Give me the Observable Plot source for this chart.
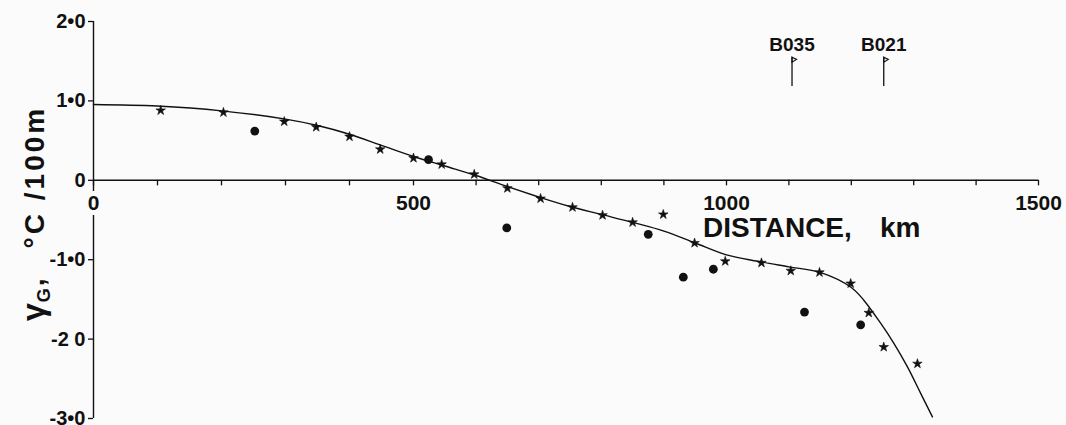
<!DOCTYPE html>
<html><head><meta charset="utf-8">
<script src="https://cdn.jsdelivr.net/npm/d3@7"></script>
<script src="https://cdn.jsdelivr.net/npm/@observablehq/plot@0.6"></script>
<style>
html,body{margin:0;padding:0;background:#fbfbfb;}
#chart svg{display:block;}
</style></head><body><div id="chart"></div>
<script>
// Stars (regular survey points)
const starDistance = [105, 203, 298, 348, 400, 448, 500, 545, 597, 650, 703, 754, 802, 850, 899, 949, 998, 1056, 1103, 1149, 1199, 1228, 1252, 1306];
const starGradient = [0.88, 0.855, 0.74, 0.67, 0.55, 0.39, 0.28, 0.20, 0.075, -0.10, -0.23, -0.34, -0.44, -0.53, -0.43, -0.79, -1.02, -1.04, -1.14, -1.16, -1.30, -1.67, -2.10, -2.31];
// Filled dots
const dotDistance = [252, 524, 649, 875, 931, 979, 1125, 1215];
const dotGradient = [0.62, 0.26, -0.60, -0.68, -1.22, -1.12, -1.66, -1.82];
// Smooth fitted curve
const curveDistance = [0, 100, 200, 300, 350, 400, 450, 500, 550, 600, 650, 700, 750, 800, 850, 900, 950, 1000, 1050, 1100, 1150, 1200, 1220, 1247, 1268, 1290, 1311, 1330];
const curveGradient = [0.955, 0.935, 0.875, 0.77, 0.69, 0.58, 0.44, 0.30, 0.18, 0.06, -0.08, -0.21, -0.33, -0.43, -0.53, -0.64, -0.79, -0.94, -1.02, -1.09, -1.16, -1.35, -1.51, -1.80, -2.05, -2.35, -2.68, -2.98];
// Station flags
const flagDistance = [1105, 1252];
const flagLabels = ["B035", "B021"];
const flagBottom = 1.18, flagTop = 1.55;
// Axes
const xTickValues = [0, 100, 200, 300, 400, 500, 600, 700, 800, 900, 1000, 1100, 1200, 1300, 1400, 1500];
const xLabelValues = [0, 500, 1000, 1500];
const xLabelText = ["0", "500", "1000", "1500"];
const yTickValues = [2, 1, 0, -1, -2, -3];
const yTickText = ["2•0", "1•0", "0", "-1•0", "-2 0", "-3•0"];

const stars = starDistance.map((d, i) => ({d, g: starGradient[i]}));
const dots = dotDistance.map((d, i) => ({d, g: dotGradient[i]}));
const curve = curveDistance.map((d, i) => ({d, g: curveGradient[i]}));
const flags = flagDistance.map((d, i) => ({d, label: flagLabels[i]}));
const xLabels = xLabelValues.map((d, i) => ({d, label: xLabelText[i]}));

const ink = "#111";
const bg = "#fbfbfb";
const pennant = {draw(ctx) { ctx.moveTo(0, 0); ctx.lineTo(4.5, 2.2); ctx.lineTo(0, 5); ctx.closePath(); }};

const svg = Plot.plot({
  width: 1066,
  height: 425,
  marginLeft: 93, marginRight: 28, marginTop: 21, marginBottom: 7,
  x: {type: "linear", domain: [0, 500, 1000, 1500], range: [93, 413, 726, 1038], axis: null},
  y: {domain: [-3, 2], range: [418, 21], axis: null},
  style: {fontFamily: "'Liberation Sans', Arial, sans-serif", fontWeight: "bold", fontSize: "20px", background: bg, color: ink},
  marks: [
    Plot.ruleY([0], {x1: 0, x2: 1500, stroke: ink, strokeWidth: 1.4}),
    Plot.ruleX(xTickValues, {x: d => d, y1: 0, y2: -0.07, stroke: ink, strokeWidth: 1.3}),
    Plot.ruleX([0], {y1: -3, y2: 2, stroke: ink, strokeWidth: 1.4}),
    Plot.axisY({ticks: yTickValues, tickFormat: d => yTickText[yTickValues.indexOf(d)], tickSize: 5, tickPadding: 3, label: null, stroke: ink, strokeWidth: 1.3, fill: ink, fontSize: 20}),
    Plot.text(xLabels, {x: "d", y: 0, text: "label", dy: 23, lineAnchor: "middle", fill: ink, stroke: bg, strokeWidth: 10, fontSize: 21}),
    Plot.line(curve, {x: "d", y: "g", curve: "catmull-rom", stroke: ink, strokeWidth: 1.4}),
    Plot.dot(stars, {x: "d", y: "g", symbol: "star", r: 3, fill: ink, stroke: ink, strokeWidth: 0.6}),
    Plot.dot(dots, {x: "d", y: "g", r: 4.4, fill: ink}),
    Plot.ruleX(flags, {x: "d", y1: flagBottom, y2: flagTop, stroke: ink, strokeWidth: 1.3}),
    Plot.dot(flags, {x: "d", y: flagTop, symbol: pennant, fill: "none", stroke: ink, strokeWidth: 1.2}),
    Plot.text(flags, {x: "d", y: flagTop, text: "label", dy: -6, lineAnchor: "bottom", fill: ink, fontSize: 19})
  ]
});

const s = d3.select(svg);
// x-axis title
const xt = s.append("text").attr("x", 703).attr("y", 237).attr("text-anchor", "start")
  .attr("font-size", 28).attr("font-weight", "bold").attr("fill", ink);
xt.append("tspan").text("DISTANCE,");
xt.append("tspan").attr("x", 880).text("km");
// y-axis title (rotated)
const yt = s.append("text").attr("transform", "translate(44,321) rotate(-90)")
  .attr("text-anchor", "start").attr("font-size", 28).attr("font-weight", "bold").attr("fill", ink);
yt.append("tspan").attr("font-size", 32).text("γ");
yt.append("tspan").attr("font-size", 18).attr("dy", 6).attr("dx", 1).text("G");
yt.append("tspan").attr("dy", -6).attr("dx", 2).text(",");
yt.append("tspan").attr("dx", 30).attr("letter-spacing", 3).text("°C /100m");

document.getElementById("chart").appendChild(svg);
</script>
</body></html>
